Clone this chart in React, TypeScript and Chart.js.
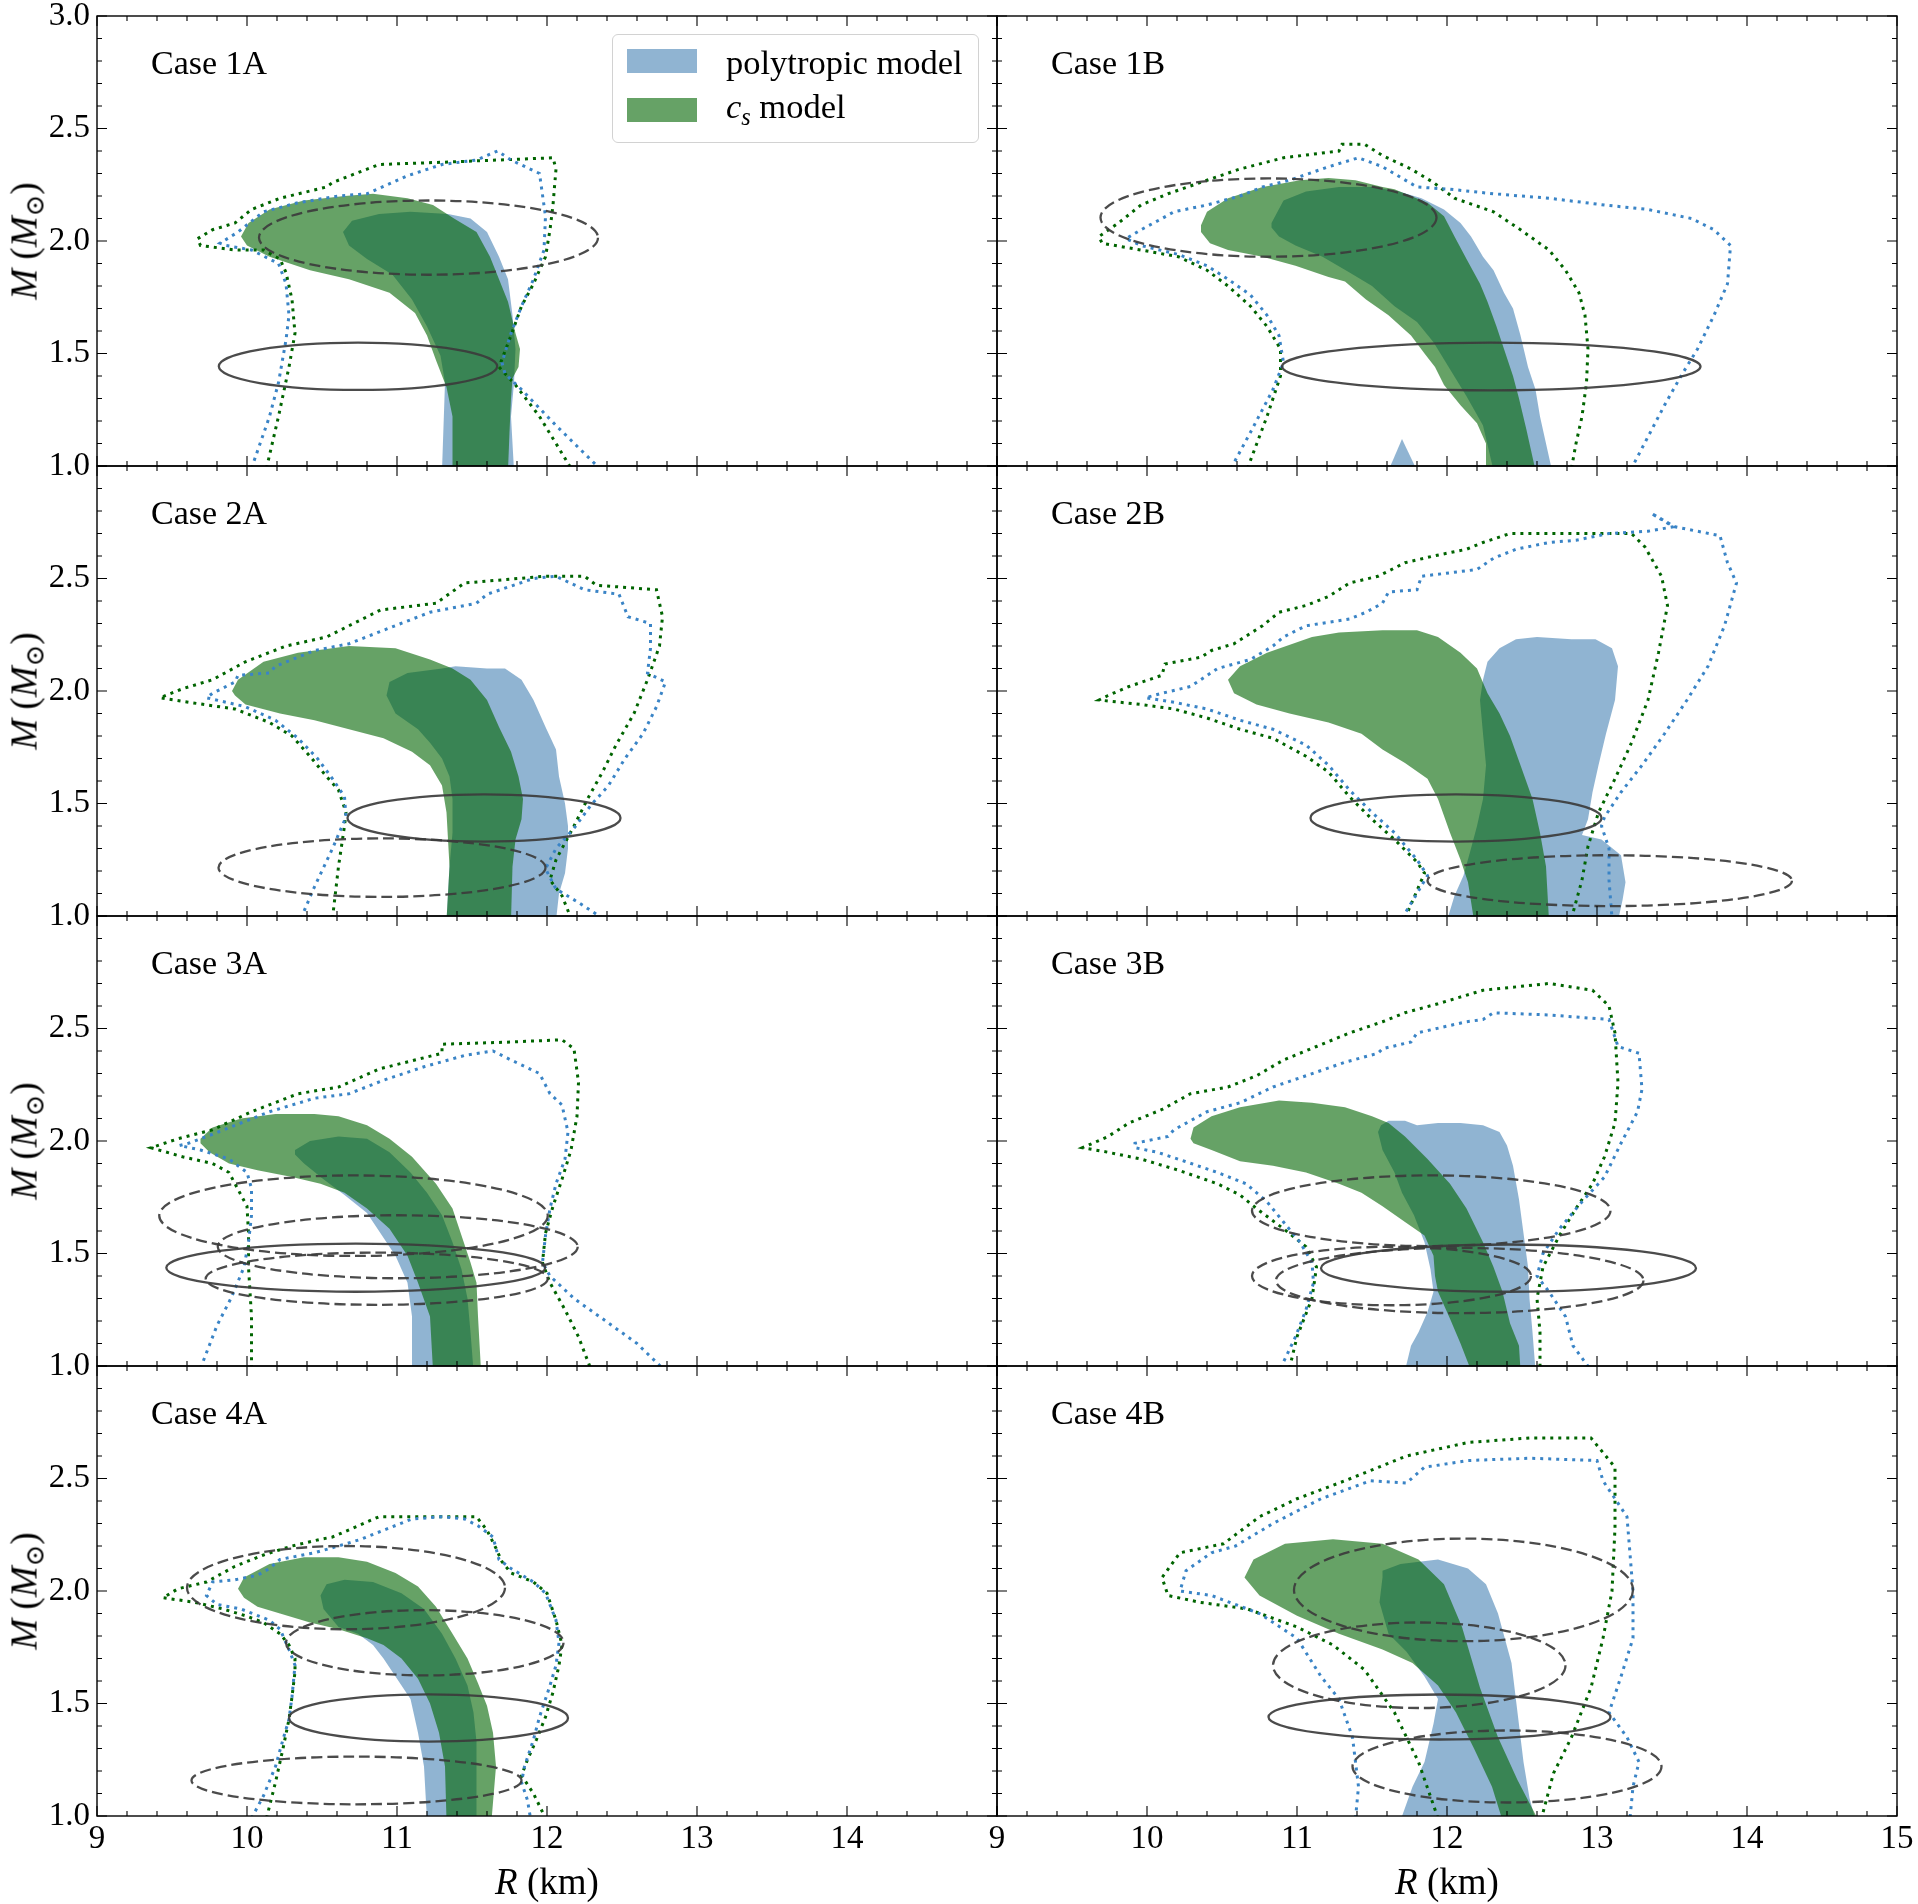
import React, { useEffect, useRef } from "react";
import { Chart, registerables } from "chart.js";
Chart.register(...registerables);

type Pt = [number, number];
type Ell = [number, number, number, number, number]; // centre R, centre M, half-width R, half-height M, dashed?

// ---------- axes ----------
const R_MIN = 9;
const R_MAX = 15;
const R_STEP = 1;
const M_MIN = 1;
const M_MAX = 3;
const M_STEP = 0.5;
const CASE_LABELS = ["Case 1A", "Case 1B", "Case 2A", "Case 2B", "Case 3A", "Case 3B", "Case 4A", "Case 4B"];
const LEGEND_LABELS = ["polytropic model", "model"];

// ---------- Case 1A ----------
const blue1A: Pt[] = [[11.30,0.98],[11.32,1.37],[11.29,1.49],[11.20,1.62],[11.10,1.74],[10.97,1.85],[10.80,1.92],[10.68,1.98],[10.64,2.04],[10.70,2.09],[10.88,2.12],[11.09,2.13],[11.34,2.12],[11.49,2.10],[11.60,2.04],[11.68,1.93],[11.74,1.83],[11.77,1.67],[11.79,1.52],[11.78,1.37],[11.76,1.22],[11.78,0.98]];
const green1A: Pt[] = [[9.96,2.02],[10.01,2.08],[10.15,2.14],[10.38,2.18],[10.65,2.20],[10.84,2.21],[11.07,2.19],[11.24,2.16],[11.38,2.10],[11.53,2.04],[11.62,1.93],[11.68,1.83],[11.74,1.73],[11.79,1.59],[11.82,1.52],[11.81,1.44],[11.77,1.39],[11.76,1.30],[11.75,1.15],[11.74,0.98],[11.37,0.98],[11.37,1.22],[11.33,1.35],[11.26,1.47],[11.20,1.58],[11.12,1.68],[10.95,1.77],[10.68,1.83],[10.42,1.87],[10.15,1.93],[10.00,1.98]];
const blueDot1A: Pt[] = [[10.03,0.99],[10.15,1.22],[10.21,1.37],[10.26,1.56],[10.28,1.67],[10.26,1.81],[10.21,1.90],[10.03,1.96],[9.86,1.98],[9.82,1.99],[9.94,2.04],[10.11,2.13],[10.34,2.17],[10.61,2.20],[10.80,2.21],[11.07,2.29],[11.30,2.34],[11.53,2.36],[11.67,2.40],[11.76,2.36],[11.95,2.30],[11.99,2.11],[11.98,1.96],[11.91,1.83],[11.83,1.71],[11.76,1.59],[11.70,1.46],[11.72,1.41],[11.83,1.34],[12.06,1.18],[12.35,0.99]];
const greenDot1A: Pt[] = [[10.13,0.99],[10.21,1.22],[10.28,1.44],[10.32,1.59],[10.30,1.74],[10.26,1.86],[10.22,1.92],[10.11,1.96],[9.92,1.96],[9.69,1.98],[9.67,2.01],[9.77,2.05],[9.92,2.08],[10.03,2.14],[10.22,2.19],[10.53,2.24],[10.57,2.26],[10.88,2.34],[11.30,2.35],[11.68,2.36],[12.04,2.37],[12.06,2.32],[12.04,2.16],[12.02,2.05],[11.99,1.93],[11.91,1.81],[11.83,1.71],[11.76,1.58],[11.68,1.44],[11.79,1.36],[11.95,1.22],[12.06,1.10],[12.16,0.99]];
const ell1A: Ell[] = [[11.21,2.015,1.13,0.165,1],[10.74,1.443,0.928,0.105,0]];

// ---------- Case 1B ----------
const blue1B: Pt[] = [[10.83,2.08],[10.91,2.18],[11.06,2.22],[11.28,2.24],[11.50,2.24],[11.68,2.22],[11.83,2.19],[11.98,2.14],[12.09,2.08],[12.16,2.02],[12.24,1.93],[12.31,1.87],[12.38,1.77],[12.44,1.70],[12.49,1.58],[12.54,1.44],[12.59,1.34],[12.62,1.22],[12.66,1.10],[12.70,0.98],[12.31,0.98],[12.24,1.18],[12.13,1.31],[12.02,1.43],[11.91,1.55],[11.80,1.64],[11.65,1.71],[11.50,1.80],[11.35,1.86],[11.17,1.93],[10.99,1.98],[10.88,2.02],[10.83,2.06]];
const blueSpike1B: Pt[] = [[11.61,0.98],[11.70,1.12],[11.80,0.98]];
const green1B: Pt[] = [[10.36,2.07],[10.40,2.13],[10.54,2.19],[10.77,2.24],[11.02,2.27],[11.21,2.28],[11.39,2.27],[11.57,2.24],[11.65,2.23],[11.87,2.17],[11.98,2.11],[12.05,2.02],[12.13,1.92],[12.22,1.81],[12.27,1.73],[12.33,1.62],[12.38,1.52],[12.44,1.40],[12.48,1.30],[12.53,1.16],[12.59,0.98],[12.26,0.98],[12.26,1.10],[12.20,1.19],[12.09,1.27],[11.98,1.36],[11.92,1.44],[11.85,1.50],[11.76,1.58],[11.61,1.67],[11.46,1.74],[11.32,1.82],[11.21,1.84],[10.99,1.89],[10.77,1.93],[10.54,1.96],[10.42,1.99],[10.36,2.04]];
const blueDot1B: Pt[] = [[10.56,0.99],[10.69,1.15],[10.84,1.34],[10.91,1.46],[10.88,1.58],[10.80,1.67],[10.69,1.76],[10.54,1.83],[10.40,1.89],[10.21,1.94],[9.96,1.98],[9.86,2.01],[9.96,2.05],[10.10,2.10],[10.18,2.13],[10.40,2.16],[10.62,2.20],[10.77,2.24],[10.95,2.27],[11.21,2.33],[11.41,2.37],[11.57,2.33],[11.80,2.24],[12.02,2.23],[12.31,2.21],[12.68,2.19],[13.05,2.16],[13.34,2.14],[13.63,2.10],[13.78,2.05],[13.89,1.98],[13.87,1.81],[13.78,1.67],[13.67,1.52],[13.56,1.40],[13.45,1.27],[13.34,1.13],[13.23,0.99]];
const greenDot1B: Pt[] = [[10.67,0.99],[10.80,1.22],[10.89,1.40],[10.89,1.52],[10.80,1.62],[10.69,1.71],[10.54,1.80],[10.40,1.87],[10.21,1.93],[9.96,1.96],[9.70,1.99],[9.68,2.02],[9.81,2.08],[9.96,2.16],[10.14,2.21],[10.40,2.27],[10.62,2.32],[10.91,2.37],[11.28,2.40],[11.30,2.43],[11.45,2.43],[11.57,2.38],[11.76,2.32],[11.91,2.26],[12.05,2.19],[12.31,2.13],[12.49,2.05],[12.68,1.96],[12.79,1.87],[12.88,1.77],[12.92,1.67],[12.94,1.52],[12.93,1.37],[12.90,1.22],[12.86,1.10],[12.83,0.99]];
const ell1B: Ell[] = [[10.81,2.104,1.12,0.174,1],[12.295,1.442,1.395,0.106,0]];

// ---------- Case 2A ----------
const blue2A: Pt[] = [[10.93,1.98],[10.95,2.04],[11.07,2.08],[11.30,2.10],[11.39,2.11],[11.60,2.10],[11.72,2.10],[11.83,2.05],[11.91,1.96],[11.99,1.84],[12.06,1.74],[12.08,1.62],[12.12,1.50],[12.14,1.40],[12.14,1.30],[12.12,1.19],[12.08,1.10],[12.06,0.98],[11.33,0.98],[11.35,1.22],[11.37,1.37],[11.37,1.52],[11.35,1.62],[11.30,1.70],[11.22,1.77],[11.14,1.83],[10.99,1.90]];
const green2A: Pt[] = [[9.90,2.00],[9.94,2.05],[10.11,2.13],[10.34,2.17],[10.68,2.20],[10.99,2.19],[11.22,2.14],[11.37,2.10],[11.49,2.05],[11.60,1.96],[11.68,1.84],[11.76,1.73],[11.81,1.62],[11.84,1.52],[11.83,1.43],[11.79,1.34],[11.77,1.22],[11.76,0.98],[11.33,0.98],[11.35,1.22],[11.33,1.46],[11.30,1.58],[11.22,1.67],[11.10,1.73],[10.91,1.79],[10.68,1.83],[10.45,1.87],[10.22,1.90],[9.99,1.94],[9.92,1.98]];
const blueDot2A: Pt[] = [[10.36,0.99],[10.45,1.13],[10.57,1.30],[10.66,1.44],[10.65,1.53],[10.57,1.61],[10.47,1.70],[10.34,1.79],[10.19,1.87],[9.99,1.93],[9.73,1.97],[9.77,1.99],[9.92,2.04],[9.94,2.07],[10.15,2.08],[10.19,2.11],[10.45,2.18],[10.68,2.21],[10.91,2.27],[11.22,2.35],[11.53,2.39],[11.60,2.43],[11.91,2.50],[12.06,2.51],[12.25,2.45],[12.48,2.43],[12.54,2.33],[12.69,2.30],[12.69,2.19],[12.67,2.08],[12.79,2.04],[12.73,1.93],[12.64,1.81],[12.52,1.70],[12.41,1.58],[12.29,1.49],[12.18,1.39],[12.06,1.30],[11.99,1.21],[12.06,1.12],[12.21,1.06],[12.37,0.99]];
const greenDot2A: Pt[] = [[10.57,0.99],[10.61,1.22],[10.65,1.40],[10.66,1.46],[10.61,1.56],[10.53,1.62],[10.42,1.71],[10.30,1.80],[10.15,1.86],[9.92,1.92],[9.61,1.95],[9.42,1.97],[9.57,2.01],[9.77,2.05],[9.99,2.13],[10.26,2.20],[10.53,2.24],[10.68,2.29],[10.89,2.36],[11.26,2.39],[11.45,2.48],[11.99,2.51],[12.25,2.51],[12.33,2.47],[12.73,2.45],[12.77,2.33],[12.75,2.20],[12.67,2.05],[12.58,1.90],[12.46,1.76],[12.37,1.64],[12.27,1.52],[12.18,1.40],[12.06,1.25],[12.02,1.16],[12.10,1.09],[12.16,0.99]];
const ell2A: Ell[] = [[11.58,1.436,0.91,0.105,0],[10.90,1.215,1.09,0.13,1]];

// ---------- Case 2B ----------
const blue2B: Pt[] = [[12.24,2.05],[12.27,2.13],[12.35,2.19],[12.46,2.23],[12.60,2.24],[12.83,2.23],[12.99,2.23],[13.10,2.19],[13.14,2.11],[13.12,1.96],[13.06,1.81],[13.01,1.67],[12.97,1.55],[12.94,1.43],[12.90,1.36],[13.03,1.34],[13.16,1.27],[13.19,1.15],[13.17,1.07],[13.14,0.98],[12.00,0.98],[12.05,1.09],[12.11,1.18],[12.16,1.30],[12.20,1.40],[12.24,1.52],[12.26,1.67],[12.24,1.81],[12.22,1.96]];
const green2B: Pt[] = [[10.54,2.05],[10.62,2.11],[10.80,2.17],[11.10,2.24],[11.28,2.26],[11.57,2.27],[11.80,2.27],[11.94,2.24],[12.09,2.17],[12.20,2.10],[12.27,1.99],[12.35,1.90],[12.42,1.80],[12.49,1.67],[12.57,1.52],[12.62,1.37],[12.66,1.22],[12.68,0.98],[12.18,0.98],[12.14,1.15],[12.09,1.25],[12.02,1.37],[11.94,1.52],[11.87,1.61],[11.72,1.68],[11.57,1.74],[11.43,1.81],[11.21,1.86],[10.95,1.90],[10.73,1.94],[10.58,1.99]];
const blueDot2B: Pt[] = [[11.70,0.99],[11.80,1.10],[11.87,1.18],[11.80,1.25],[11.65,1.37],[11.50,1.46],[11.35,1.56],[11.21,1.67],[11.06,1.76],[10.84,1.83],[10.62,1.87],[10.40,1.92],[10.18,1.95],[9.99,1.97],[10.10,1.99],[10.29,2.02],[10.47,2.10],[10.69,2.14],[10.84,2.20],[10.91,2.24],[11.06,2.29],[11.35,2.32],[11.46,2.35],[11.57,2.39],[11.61,2.44],[11.80,2.45],[11.83,2.51],[12.20,2.54],[12.31,2.59],[12.46,2.63],[12.68,2.66],[12.86,2.67],[13.08,2.70],[13.34,2.71],[13.51,2.73],[13.36,2.79],[13.52,2.73],[13.82,2.69],[13.87,2.57],[13.93,2.48],[13.85,2.29],[13.74,2.11],[13.60,1.96],[13.45,1.81],[13.30,1.67],[13.16,1.55],[13.05,1.44],[13.03,1.40],[13.08,1.30],[13.08,1.16],[13.10,0.99]];
const greenDot2B: Pt[] = [[11.72,0.99],[11.85,1.19],[11.80,1.24],[11.65,1.34],[11.50,1.43],[11.35,1.53],[11.21,1.64],[11.06,1.71],[10.84,1.79],[10.62,1.83],[10.40,1.88],[10.18,1.92],[9.96,1.94],[9.68,1.96],[9.74,1.98],[9.88,2.02],[10.10,2.07],[10.12,2.12],[10.36,2.15],[10.43,2.18],[10.58,2.21],[10.77,2.29],[10.88,2.35],[11.06,2.38],[11.21,2.42],[11.35,2.48],[11.54,2.51],[11.72,2.57],[11.91,2.60],[12.13,2.63],[12.24,2.66],[12.42,2.70],[13.05,2.70],[13.23,2.70],[13.32,2.64],[13.43,2.51],[13.47,2.38],[13.41,2.17],[13.34,1.96],[13.23,1.77],[13.12,1.61],[13.01,1.46],[12.94,1.31],[12.90,1.16],[12.83,0.99]];
const ell2B: Ell[] = [[12.06,1.436,0.97,0.105,0],[13.085,1.157,1.215,0.113,1]];

// ---------- Case 3A ----------
const blue3A: Pt[] = [[10.32,1.96],[10.42,2.00],[10.61,2.02],[10.80,2.01],[10.95,1.95],[11.09,1.86],[11.20,1.77],[11.30,1.67],[11.37,1.55],[11.43,1.43],[11.47,1.30],[11.49,1.15],[11.51,0.98],[11.10,0.98],[11.10,1.22],[11.07,1.37],[10.99,1.49],[10.89,1.59],[10.80,1.68],[10.65,1.76],[10.51,1.83],[10.38,1.90],[10.32,1.94]];
const green3A: Pt[] = [[9.69,2.01],[9.77,2.06],[9.96,2.10],[10.19,2.12],[10.45,2.12],[10.61,2.11],[10.80,2.07],[10.95,2.01],[11.10,1.93],[11.26,1.81],[11.37,1.70],[11.43,1.58],[11.49,1.46],[11.53,1.37],[11.54,1.22],[11.56,0.98],[11.24,0.98],[11.22,1.22],[11.14,1.37],[11.07,1.49],[10.95,1.61],[10.80,1.70],[10.65,1.77],[10.49,1.81],[10.30,1.84],[10.07,1.87],[9.88,1.90],[9.75,1.95],[9.69,1.99]];
const blueDot3A: Pt[] = [[9.69,0.99],[9.80,1.18],[9.90,1.31],[9.98,1.44],[10.01,1.55],[10.03,1.67],[10.03,1.79],[10.00,1.86],[9.88,1.92],[9.69,1.96],[9.55,1.98],[9.61,1.99],[9.77,2.03],[9.96,2.08],[10.15,2.13],[10.45,2.19],[10.68,2.21],[10.91,2.27],[11.18,2.33],[11.45,2.38],[11.64,2.40],[11.76,2.36],[11.95,2.30],[12.02,2.21],[12.10,2.16],[12.14,2.04],[12.12,1.92],[12.06,1.81],[12.02,1.70],[11.99,1.58],[11.97,1.46],[12.02,1.40],[12.18,1.30],[12.37,1.21],[12.60,1.10],[12.77,0.99]];
const greenDot3A: Pt[] = [[10.03,0.99],[10.03,1.22],[10.01,1.44],[10.01,1.59],[10.00,1.71],[9.92,1.81],[9.88,1.86],[9.77,1.90],[9.57,1.93],[9.36,1.97],[9.54,2.01],[9.77,2.05],[10.03,2.13],[10.34,2.21],[10.61,2.24],[10.88,2.32],[11.30,2.39],[11.30,2.43],[11.76,2.44],[12.10,2.45],[12.18,2.41],[12.21,2.26],[12.20,2.11],[12.16,1.96],[12.10,1.83],[12.04,1.71],[11.99,1.59],[11.97,1.46],[12.02,1.37],[12.12,1.25],[12.21,1.13],[12.29,0.99]];
const ell3A: Ell[] = [[10.71,1.668,1.295,0.179,1],[11.005,1.53,1.20,0.14,1],[10.725,1.437,1.263,0.107,0],[10.865,1.388,1.14,0.116,1]];

// ---------- Case 3B ----------
const blue3B: Pt[] = [[11.54,2.04],[11.56,2.07],[11.61,2.09],[11.72,2.09],[11.80,2.07],[11.94,2.08],[12.09,2.08],[12.24,2.07],[12.35,2.04],[12.40,1.98],[12.44,1.89],[12.48,1.74],[12.51,1.59],[12.54,1.44],[12.55,1.30],[12.57,1.15],[12.59,0.98],[11.72,0.98],[11.76,1.09],[11.81,1.15],[11.87,1.24],[11.91,1.33],[11.89,1.43],[11.85,1.55],[11.78,1.67],[11.70,1.77],[11.65,1.86],[11.57,1.96]];
const green3B: Pt[] = [[10.29,2.01],[10.31,2.06],[10.43,2.11],[10.62,2.15],[10.88,2.18],[11.10,2.17],[11.32,2.15],[11.50,2.11],[11.61,2.08],[11.72,2.02],[11.87,1.92],[12.02,1.81],[12.13,1.70],[12.24,1.55],[12.31,1.44],[12.37,1.33],[12.42,1.19],[12.48,1.09],[12.49,0.98],[12.16,0.98],[12.09,1.10],[12.02,1.21],[11.94,1.33],[11.92,1.40],[11.91,1.49],[11.85,1.58],[11.72,1.64],[11.57,1.71],[11.43,1.77],[11.28,1.81],[11.06,1.86],[10.84,1.89],[10.62,1.91],[10.43,1.96],[10.31,1.99]];
const blueDot3B: Pt[] = [[10.89,0.99],[10.99,1.13],[11.06,1.25],[11.11,1.37],[11.10,1.46],[11.02,1.55],[10.91,1.64],[10.80,1.73],[10.66,1.81],[10.47,1.86],[10.25,1.91],[10.07,1.95],[9.92,1.97],[9.92,1.99],[10.14,2.02],[10.18,2.05],[10.40,2.13],[10.62,2.17],[10.84,2.24],[11.06,2.29],[11.32,2.35],[11.54,2.39],[11.57,2.41],[11.76,2.44],[11.80,2.48],[12.13,2.53],[12.24,2.54],[12.31,2.57],[12.68,2.56],[13.08,2.54],[13.14,2.42],[13.28,2.39],[13.30,2.23],[13.27,2.13],[13.16,1.99],[13.05,1.84],[12.90,1.73],[12.75,1.61],[12.64,1.50],[12.60,1.40],[12.68,1.33],[12.79,1.22],[12.84,1.09],[12.95,0.99]];
const greenDot3B: Pt[] = [[10.95,0.99],[11.00,1.13],[11.10,1.30],[11.13,1.44],[11.06,1.53],[10.91,1.61],[10.73,1.70],[10.62,1.76],[10.47,1.81],[10.21,1.87],[9.96,1.92],[9.74,1.95],[9.57,1.97],[9.74,2.02],[9.88,2.08],[10.10,2.14],[10.29,2.21],[10.54,2.24],[10.73,2.29],[10.91,2.36],[11.13,2.42],[11.35,2.48],[11.57,2.53],[11.72,2.57],[11.94,2.61],[12.24,2.67],[12.68,2.70],[12.97,2.67],[13.08,2.60],[13.12,2.48],[13.14,2.26],[13.12,2.08],[13.05,1.93],[12.97,1.81],[12.86,1.70],[12.75,1.58],[12.64,1.44],[12.60,1.30],[12.62,1.15],[12.62,0.99]];
const ell3B: Ell[] = [[11.895,1.69,1.195,0.157,1],[12.41,1.435,1.25,0.105,0],[11.63,1.40,0.93,0.13,1],[12.085,1.38,1.225,0.145,1]];

// ---------- Case 4A ----------
const blue4A: Pt[] = [[10.49,1.98],[10.53,2.03],[10.65,2.05],[10.84,2.04],[11.03,1.99],[11.18,1.92],[11.30,1.81],[11.39,1.70],[11.47,1.58],[11.51,1.46],[11.53,1.33],[11.53,1.15],[11.53,0.98],[11.20,0.98],[11.18,1.22],[11.14,1.37],[11.09,1.52],[10.99,1.62],[10.91,1.70],[10.84,1.76],[10.74,1.81],[10.61,1.84],[10.51,1.92]];
const green4A: Pt[] = [[9.94,2.01],[9.98,2.06],[10.15,2.12],[10.38,2.15],[10.61,2.15],[10.80,2.13],[10.99,2.08],[11.14,2.02],[11.26,1.93],[11.37,1.81],[11.47,1.70],[11.54,1.59],[11.60,1.49],[11.64,1.37],[11.66,1.22],[11.63,0.98],[11.33,0.98],[11.32,1.22],[11.28,1.37],[11.22,1.50],[11.14,1.61],[11.03,1.70],[10.91,1.76],[10.80,1.79],[10.61,1.83],[10.42,1.86],[10.22,1.90],[10.07,1.93],[9.98,1.97]];
const blueDot4A: Pt[] = [[10.03,0.99],[10.11,1.09],[10.19,1.22],[10.24,1.34],[10.28,1.43],[10.30,1.53],[10.32,1.67],[10.28,1.74],[10.22,1.83],[10.15,1.87],[9.96,1.92],[9.80,1.94],[9.73,1.98],[9.77,2.04],[9.92,2.05],[10.07,2.07],[10.15,2.10],[10.22,2.14],[10.45,2.17],[10.61,2.20],[10.76,2.23],[10.91,2.27],[11.10,2.32],[11.30,2.33],[11.45,2.32],[11.54,2.29],[11.64,2.24],[11.68,2.14],[11.76,2.10],[11.91,2.04],[11.99,1.99],[12.06,1.87],[12.08,1.77],[12.06,1.67],[12.02,1.58],[11.95,1.44],[11.91,1.34],[11.85,1.22],[11.83,1.15],[11.87,1.07],[11.89,0.99]];
const greenDot4A: Pt[] = [[10.13,0.99],[10.19,1.15],[10.24,1.30],[10.28,1.43],[10.30,1.53],[10.32,1.64],[10.32,1.70],[10.28,1.76],[10.22,1.81],[10.11,1.86],[9.99,1.89],[9.84,1.92],[9.65,1.95],[9.44,1.97],[9.54,2.01],[9.73,2.04],[9.92,2.11],[10.11,2.16],[10.30,2.20],[10.49,2.23],[10.57,2.24],[10.88,2.33],[11.18,2.33],[11.53,2.33],[11.60,2.27],[11.66,2.19],[11.70,2.13],[11.76,2.08],[11.91,2.04],[12.00,1.99],[12.06,1.87],[12.10,1.76],[12.08,1.67],[12.04,1.55],[11.99,1.44],[11.93,1.34],[11.87,1.25],[11.83,1.18],[11.91,1.10],[11.99,0.99]];
const ell4A: Ell[] = [[10.66,2.015,1.06,0.185,1],[11.185,1.77,0.925,0.145,1],[11.21,1.436,0.93,0.105,0],[10.73,1.158,1.10,0.106,1]];

// ---------- Case 4B ----------
const blue4B: Pt[] = [[11.57,2.09],[11.69,2.12],[11.94,2.14],[12.14,2.10],[12.26,2.03],[12.34,1.90],[12.43,1.68],[12.47,1.46],[12.51,1.24],[12.55,1.08],[12.59,0.98],[11.69,0.98],[11.77,1.13],[11.85,1.24],[11.91,1.41],[11.94,1.52],[11.85,1.62],[11.73,1.73],[11.61,1.81],[11.55,1.95],[11.57,2.06]];
const green4B: Pt[] = [[10.65,2.06],[10.71,2.14],[10.92,2.21],[11.24,2.23],[11.57,2.21],[11.81,2.14],[11.98,2.03],[12.10,1.84],[12.22,1.57],[12.34,1.35],[12.47,1.16],[12.61,0.98],[12.37,0.98],[12.30,1.13],[12.18,1.30],[12.06,1.46],[11.94,1.58],[11.77,1.68],[11.57,1.74],[11.28,1.81],[11.00,1.89],[10.75,1.98]];
const blueDot4B: Pt[] = [[11.39,0.99],[11.41,1.13],[11.37,1.35],[11.28,1.52],[11.16,1.62],[11.00,1.79],[10.75,1.90],[10.43,1.98],[10.22,2.00],[10.26,2.09],[10.43,2.17],[10.59,2.20],[10.84,2.30],[11.16,2.41],[11.49,2.49],[11.73,2.48],[11.85,2.55],[12.14,2.58],[12.55,2.59],[13.00,2.58],[13.04,2.49],[13.20,2.33],[13.24,2.00],[13.24,1.79],[13.16,1.62],[13.08,1.46],[13.20,1.35],[13.28,1.24],[13.24,1.13],[13.22,0.99]];
const greenDot4B: Pt[] = [[11.94,0.99],[11.81,1.24],[11.65,1.46],[11.45,1.65],[11.24,1.76],[11.00,1.84],[10.67,1.92],[10.35,1.95],[10.14,1.98],[10.10,2.06],[10.22,2.17],[10.51,2.21],[10.75,2.33],[11.00,2.41],[11.32,2.49],[11.73,2.60],[12.14,2.66],[12.55,2.68],[12.96,2.68],[13.12,2.55],[13.12,2.28],[13.10,2.00],[13.04,1.79],[12.96,1.57],[12.83,1.35],[12.71,1.19],[12.63,0.99]];
const ell4B: Ell[] = [[12.11,2.005,1.13,0.228,1],[11.815,1.67,0.975,0.19,1],[11.95,1.44,1.14,0.10,0],[12.40,1.22,1.03,0.16,1]];

// ---------- assembly ----------
type PanelData = { blue: Pt[][]; green: Pt[][]; blueDot: Pt[]; greenDot: Pt[]; ell: Ell[] };
const PANELS: PanelData[] = [
  { blue: [blue1A], green: [green1A], blueDot: blueDot1A, greenDot: greenDot1A, ell: ell1A },
  { blue: [blue1B, blueSpike1B], green: [green1B], blueDot: blueDot1B, greenDot: greenDot1B, ell: ell1B },
  { blue: [blue2A], green: [green2A], blueDot: blueDot2A, greenDot: greenDot2A, ell: ell2A },
  { blue: [blue2B], green: [green2B], blueDot: blueDot2B, greenDot: greenDot2B, ell: ell2B },
  { blue: [blue3A], green: [green3A], blueDot: blueDot3A, greenDot: greenDot3A, ell: ell3A },
  { blue: [blue3B], green: [green3B], blueDot: blueDot3B, greenDot: greenDot3B, ell: ell3B },
  { blue: [blue4A], green: [green4A], blueDot: blueDot4A, greenDot: greenDot4A, ell: ell4A },
  { blue: [blue4B], green: [green4B], blueDot: blueDot4B, greenDot: greenDot4B, ell: ell4B },
];

const BLUE_FILL = "rgba(70,130,180,0.6)";
const GREEN_FILL = "rgba(0,100,0,0.6)";
const BLUE_PATCH = "rgb(144,180,210)";
const GREEN_PATCH = "rgb(102,162,102)";
const BLUE_DOT = "#3a84c6";
const GREEN_DOT = "#006400";
const ELL_COLOR = "rgba(60,60,60,0.92)";
const FONT = "'Liberation Serif', 'DejaVu Serif', serif";

const PANEL_W = 900;
const PANEL_H = 450;
const COL_X = [97, 997];
const ROW_Y = [16, 466, 916, 1366];

const toXY = (pts: Pt[]) => pts.map(([x, y]) => ({ x, y }));

function makePlugin(p: PanelData) {
  return {
    id: "panelDeco",
    beforeDatasetsDraw(chart: any) {
      const { ctx, chartArea: a } = chart;
      ctx.save();
      ctx.beginPath();
      ctx.rect(a.left, a.top, a.right - a.left, a.bottom - a.top);
      ctx.clip();
      chart.data.datasets.forEach((ds: any, i: number) => {
        if (!ds.polyFill) return;
        const pts = chart.getDatasetMeta(i).data;
        ctx.beginPath();
        pts.forEach((pt: any, j: number) => (j ? ctx.lineTo(pt.x, pt.y) : ctx.moveTo(pt.x, pt.y)));
        ctx.closePath();
        ctx.fillStyle = ds.polyFill;
        ctx.fill();
      });
      ctx.restore();
    },
    afterDatasetsDraw(chart: any) {
      const { ctx, chartArea: a } = chart;
      const xs = chart.scales.x;
      const ys = chart.scales.y;
      ctx.save();
      ctx.beginPath();
      ctx.rect(a.left, a.top, a.right - a.left, a.bottom - a.top);
      ctx.clip();
      for (const [cx, cy, ra, rb, dashed] of p.ell) {
        const px = xs.getPixelForValue(cx);
        const py = ys.getPixelForValue(cy);
        const rx = Math.abs(xs.getPixelForValue(cx + ra) - px);
        const ry = Math.abs(ys.getPixelForValue(cy + rb) - py);
        ctx.beginPath();
        ctx.ellipse(px, py, rx, ry, 0, 0, Math.PI * 2);
        ctx.setLineDash(dashed ? [11, 5] : []);
        ctx.lineWidth = 2.3;
        ctx.strokeStyle = ELL_COLOR;
        ctx.stroke();
      }
      ctx.restore();
    },
    afterDraw(chart: any) {
      const { ctx, chartArea: a } = chart;
      const xs = chart.scales.x;
      const ys = chart.scales.y;
      ctx.save();
      ctx.strokeStyle = "#000";
      ctx.lineWidth = 1.1;
      ctx.setLineDash([]);
      ctx.beginPath();
      for (let k = 0; k <= 30; k++) {
        const v = R_MIN + k * 0.2;
        const len = k % 5 === 0 ? 10 : 5;
        const x = xs.getPixelForValue(v);
        ctx.moveTo(x, a.bottom);
        ctx.lineTo(x, a.bottom - len);
        ctx.moveTo(x, a.top);
        ctx.lineTo(x, a.top + len);
      }
      for (let k = 0; k <= 20; k++) {
        const v = M_MIN + k * 0.1;
        const len = k % 5 === 0 ? 10 : 5;
        const y = ys.getPixelForValue(v);
        ctx.moveTo(a.left, y);
        ctx.lineTo(a.left + len, y);
        ctx.moveTo(a.right, y);
        ctx.lineTo(a.right - len, y);
      }
      ctx.stroke();
      ctx.lineWidth = 1.4;
      ctx.strokeRect(a.left, a.top, a.right - a.left, a.bottom - a.top);
      ctx.restore();
    },
  };
}

const zeroPad = (s: any) => {
  s.paddingTop = 0;
  s.paddingBottom = 0;
  s.paddingLeft = 0;
  s.paddingRight = 0;
};

function Panel({ idx }: { idx: number }) {
  const ref = useRef<HTMLCanvasElement>(null);
  const row = Math.floor(idx / 2);
  const col = idx % 2;
  const padL = col === 0 ? 97 : 12;
  const padR = col === 0 ? 12 : 21;
  const padT = row === 0 ? 16 : 12;
  const padB = row === 3 ? 88 : 12;
  const left = COL_X[col] - padL;
  const top = ROW_Y[row] - padT;
  const W = padL + PANEL_W + padR;
  const H = padT + PANEL_H + padB;

  useEffect(() => {
    const p = PANELS[idx];
    const datasets: any[] = [];
    p.blue.forEach((poly) =>
      datasets.push({ label: "polytropic model", data: toXY(poly), showLine: false, pointRadius: 0, pointHoverRadius: 0, polyFill: BLUE_FILL })
    );
    p.green.forEach((poly) =>
      datasets.push({ label: "cs model", data: toXY(poly), showLine: false, pointRadius: 0, pointHoverRadius: 0, polyFill: GREEN_FILL })
    );
    datasets.push({
      label: "polytropic bound", data: toXY(p.blueDot), showLine: true, borderColor: BLUE_DOT, borderWidth: 3,
      borderDash: [3, 5], borderCapStyle: "butt", pointRadius: 0, fill: false, tension: 0, clip: 0,
    });
    datasets.push({
      label: "cs bound", data: toXY(p.greenDot), showLine: true, borderColor: GREEN_DOT, borderWidth: 3,
      borderDash: [3, 5], borderCapStyle: "butt", pointRadius: 0, fill: false, tension: 0, clip: 0,
    });
    const tickFont = { family: FONT, size: 33 };
    const chart = new Chart(ref.current as HTMLCanvasElement, {
      type: "scatter",
      data: { datasets },
      options: {
        animation: false,
        responsive: false,
        events: [],
        layout: { padding: { left: 0, right: padR, top: padT, bottom: 0 }, autoPadding: false } as any,
        plugins: { legend: { display: false }, tooltip: { enabled: false }, title: { display: false } },
        scales: {
          x: {
            type: "linear", min: R_MIN, max: R_MAX,
            grid: { display: false, drawTicks: false, tickLength: 0 },
            border: { display: false },
            ticks: {
              display: row === 3, stepSize: R_STEP, autoSkip: false, maxRotation: 0, minRotation: 0,
              font: tickFont, color: "#000", padding: 4,
              callback: (v: any) => (col === 0 && Number(v) === R_MAX ? "" : String(v)),
            },
            afterFit: (s: any) => { s.height = padB; zeroPad(s); },
          },
          y: {
            type: "linear", min: M_MIN, max: M_MAX,
            grid: { display: false, drawTicks: false, tickLength: 0 },
            border: { display: false },
            ticks: {
              display: col === 0, stepSize: M_STEP, autoSkip: false,
              font: tickFont, color: "#000", padding: 7,
              callback: (v: any) => (row > 0 && Number(v) === M_MAX ? "" : Number(v).toFixed(1)),
            },
            afterFit: (s: any) => { s.width = padL; zeroPad(s); },
          },
        },
      } as any,
      plugins: [makePlugin(p)],
    });
    return () => chart.destroy();
  }, [idx]);

  return (
    <canvas
      ref={ref}
      width={W}
      height={H}
      style={{ position: "absolute", left, top, width: W, height: H }}
    />
  );
}

const subStyle: React.CSSProperties = { fontSize: "0.7em", verticalAlign: "-0.28em", lineHeight: 0 };

export default function App() {
  return (
    <div
      style={{
        position: "absolute", left: 0, top: 0, width: 1918, height: 1904, background: "#fff",
        overflow: "hidden", fontFamily: FONT, color: "#000",
      }}
    >
      {PANELS.map((_, i) => (
        <Panel key={i} idx={i} />
      ))}
      {CASE_LABELS.map((t, i) => (
        <div
          key={t}
          style={{
            position: "absolute", left: COL_X[i % 2] + 54, top: ROW_Y[Math.floor(i / 2)] + 29.5,
            fontSize: 34, lineHeight: "34px", whiteSpace: "nowrap",
          }}
        >
          {t}
        </div>
      ))}
      {/* legend */}
      <div
        style={{
          position: "absolute", left: 612, top: 34, width: 367, height: 109, boxSizing: "border-box",
          border: "1.3px solid #d2d2d2", borderRadius: 6, background: "rgba(255,255,255,0.85)",
        }}
      >
        <div style={{ position: "absolute", left: 14, top: 14, width: 70, height: 24, background: BLUE_PATCH }} />
        <div style={{ position: "absolute", left: 14, top: 63, width: 70, height: 24, background: GREEN_PATCH }} />
        <div style={{ position: "absolute", left: 113, top: 10, fontSize: 34.5, lineHeight: "34px", whiteSpace: "nowrap" }}>
          {LEGEND_LABELS[0]}
        </div>
        <div style={{ position: "absolute", left: 113, top: 53.5, fontSize: 34.5, lineHeight: "34px", whiteSpace: "nowrap" }}>
          <i>c</i>
          <sub style={subStyle}>
            <i>s</i>
          </sub>{" "}
          {LEGEND_LABELS[1]}
        </div>
      </div>
      {/* y-axis titles */}
      {ROW_Y.map((y, r) => (
        <div
          key={"yl" + r}
          style={{
            position: "absolute", left: 24, top: y + PANEL_H / 2, transform: "translate(-50%,-50%) rotate(-90deg)",
            fontSize: 37, lineHeight: "37px", whiteSpace: "nowrap",
          }}
        >
          <i>M</i> (<i>M</i>
          <sub style={subStyle}>⊙</sub>)
        </div>
      ))}
      {/* x-axis titles */}
      {COL_X.map((x, c) => (
        <div
          key={"xl" + c}
          style={{
            position: "absolute", left: x + PANEL_W / 2, top: 1863, transform: "translateX(-50%)",
            fontSize: 37, lineHeight: "37px", whiteSpace: "nowrap",
          }}
        >
          <i>R</i> (km)
        </div>
      ))}
    </div>
  );
}
